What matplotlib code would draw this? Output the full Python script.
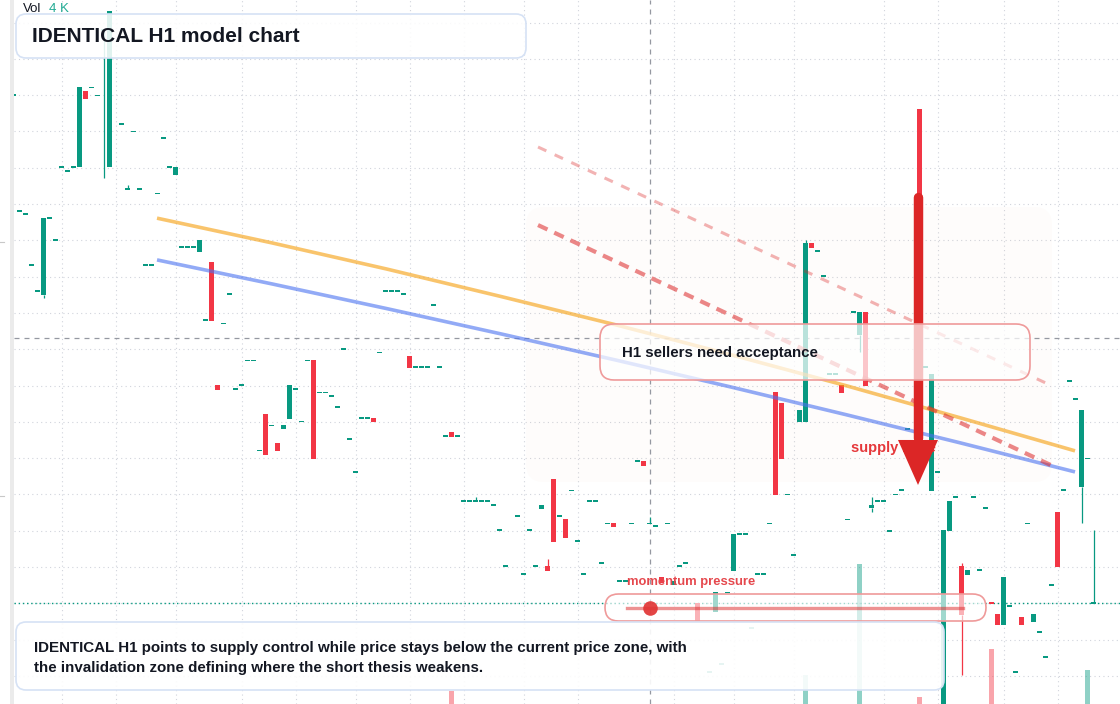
import numpy as np
import matplotlib.pyplot as plt
from matplotlib.patches import FancyBboxPatch, Rectangle, Polygon

plt.rcParams['font.family'] = ['Liberation Sans', 'DejaVu Sans']

W, H = 1120, 704
GREEN = '#089981'
RED = '#f23645'
INK = '#131722'

# H1 candles, one per bar index (None = not visible on the chart)
opens = [
    114.00, 110.80, 110.72, 109.31, 108.60, 108.49, 110.61, 110.00, 112.01, 111.90,
    112.01, 112.01, 114.11, 114.21, 113.99, 115.79, 112.01, None, 113.20, 111.41,
    113.00, 111.41, 109.31, 109.31, 111.29, 112.81, 112.01, 111.80, 109.81, 109.81,
    109.81, 109.68, 107.80, 109.40, 106.01, 107.71, 108.51, 105.90, 106.01, 106.69,
    106.69, 104.21, 105.21, 104.90, 104.42, 104.80, 105.08, 105.90, 105.01, 106.69,
    106.70, 105.81, 105.81, 105.70, 105.40, 107.00, 104.52, 103.61, 105.10, 105.10,
    105.10, 106.91, 108.60, 108.60, 108.60, 108.52, 106.81, 106.50, 106.50, 106.50,
    108.22, 106.50, 104.60, 104.72, 104.60, 102.81, 102.81, 102.81, 102.81, 102.81,
    102.70, 102.01, 101.02, None, 102.40, 100.80, 102.01, 101.02, 102.60, 101.03,
    103.42, 102.40, 102.32, 103.11, 101.71, 100.80, 102.81, 102.81, 101.10, 102.20,
    102.21, 100.61, 100.61, 102.20, 103.91, 103.92, 102.20, 102.12, 100.72, 102.20,
    100.50, 101.02, 101.10, None, 100.00, None, 98.10, 99.76, 98.33, 100.30,
    100.90, 101.90, 101.90, 99.32, 100.80, 100.80, 102.20, 105.82, 105.53, 103.00,
    101.32, 105.00, 105.00, 109.93, 109.70, 109.01, 106.31, 106.31, 106.01, 102.31,
    108.02, 107.40, 108.02, 102.62, 102.81, 102.81, 102.00, 103.00, 103.12, 104.81,
    None, 113.62, 106.50, 103.10, 103.61, 96.23, 102.00, 102.92, 101.03, 100.79,
    102.92, 100.92, 102.62, 100.02, 99.71, 99.40, 99.93, 98.10, 99.61, 102.20,
    99.49, 99.20, 98.51, 100.50, 102.52, 103.12, 106.12, 105.62, 103.20, 103.99,
    100.00,
]
closes = [
    114.00, 110.80, 110.72, 109.31, 108.60, 110.61, 110.61, 110.00, 112.01, 111.90,
    112.01, 114.22, 113.89, 114.21, 113.99, 115.79, 116.32, None, 113.20, 111.41,
    113.00, 111.41, 109.31, 109.31, 111.29, 112.81, 112.01, 112.01, 109.81, 109.81,
    109.81, 110.00, 107.80, 107.78, 105.88, 107.71, 108.51, 105.90, 106.01, 106.69,
    106.69, 104.21, 104.09, 104.90, 104.20, 104.91, 106.01, 105.90, 105.01, 106.69,
    103.98, 105.81, 105.81, 105.70, 105.40, 107.00, 104.52, 103.61, 105.10, 105.10,
    104.99, 106.91, 108.60, 108.60, 108.60, 108.52, 106.49, 106.50, 106.50, 106.50,
    108.22, 106.50, 104.60, 104.58, 104.60, 102.81, 102.81, 102.81, 102.81, 102.81,
    102.70, 102.01, 101.02, None, 102.40, 100.80, 102.01, 101.02, 102.71, 100.90,
    101.70, 102.40, 101.80, 103.11, 101.71, 100.80, 102.81, 102.81, 101.10, 102.20,
    102.10, 100.61, 100.61, 102.20, 103.91, 103.79, 102.20, 102.12, 100.57, 102.20,
    100.62, 101.02, 101.10, None, 99.51, None, 98.10, 100.31, 98.33, 100.30,
    101.91, 101.90, 101.90, 99.32, 100.80, 100.80, 102.20, 102.99, 103.98, 103.00,
    101.32, 105.33, 109.93, 109.80, 109.70, 109.01, 106.31, 106.31, 105.80, 102.31,
    108.02, 108.02, 105.99, 102.71, 102.81, 102.81, 102.00, 103.00, 103.12, 104.81,
    None, 108.36, 106.50, 106.32, 103.61, 102.02, 102.82, 102.92, 99.68, 100.92,
    102.92, 100.92, 102.62, 100.00, 99.40, 100.72, 99.93, 98.10, 99.40, 102.20,
    99.71, 99.20, 98.51, 100.50, 101.01, 103.12, 106.12, 105.62, 105.33, 103.99,
    100.00,
]
wick_highs = {19: 111.52, 77: 102.93, 89: 101.22, 106: 102.39, 132: 110.01,
              143: 102.94, 158: 101.11, 180: 102.02}
wick_lows = {5: 108.42, 15: 111.72, 141: 106.93, 143: 102.52, 158: 98.02,
             178: 102.22}

# volume (K) for the bars that show above the bottom edge
vol_idx = [73, 106, 132, 141, 151, 163, 179]
vol_k = [11.1, 4.0, 16.3, 53.3, 9.0, 25.0, 18.0]

grid_idx = [8, 17, 27, 38, 47, 57, 66, 75, 85, 94, 110, 120, 130, 145, 154, 165, 174]
grid_prices = list(range(98, 117))

last_price = 100.00
cross_idx, cross_price = 106, 107.31

# drawings: (bar index, price)
curve_x = [23.92, 43.04, 62.17, 81.29, 100.42, 119.54, 138.67, 157.79, 176.92]
orange_y = [110.61, 109.93, 109.21, 108.45, 107.67, 106.85, 106.00, 105.11, 104.20]
blue_y = [109.46, 108.80, 108.12, 107.42, 106.70, 105.96, 105.20, 104.42, 103.62]
dash_x = [87.42, 173.25]
dash_y = [110.42, 103.78]
dash2_x = [87.42, 173.08]
dash2_y = [112.57, 105.99]
zone_x = (85.42, 173.08)
zone_y = (103.34, 110.92)
arrow_x, arrow_top, arrow_tip = 150.75, 111.18, 103.26

fig = plt.figure(figsize=(W / 100, H / 100), dpi=100)
ax = fig.add_axes([0, 0, 1, 1])
x_lo, x_hi = -13.5 / 6, (W - 13.5) / 6
y_lo, y_hi = 97.226, 116.620
ax.set_xlim(x_lo, x_hi)
ax.set_ylim(y_lo, y_hi)
ax.set_axis_off()
ppx = (y_hi - y_lo) / H      # price per pixel
ipx = (x_hi - x_lo) / W      # bar index per pixel


def px_box(x0, y0, x1, y1, r, **kw):
    p = FancyBboxPatch((x0 / W, 1 - y1 / H), (x1 - x0) / W, (y1 - y0) / H,
                       boxstyle=f"round,pad=0,rounding_size={r / W}",
                       mutation_aspect=W / H, transform=ax.transAxes, **kw)
    ax.add_patch(p)


def px_text(x, y, s, **kw):
    ax.text(x / W, 1 - y / H, s, transform=ax.transAxes, va='center', ha='left', **kw)


# grid
x_start = x_lo + 14 * ipx
for gp in grid_prices:
    ax.plot([x_start, x_hi], [gp, gp], color='#d1d4dc', lw=0.8, ls=(0, (1, 3)), zorder=0)
for gi in grid_idx:
    ax.plot([gi, gi], [y_lo, y_hi], color='#d1d4dc', lw=0.8, ls=(0, (1, 3)), zorder=0)

# supply zone shading
ax.add_patch(FancyBboxPatch((zone_x[0], zone_y[0]), zone_x[1] - zone_x[0], zone_y[1] - zone_y[0],
                            boxstyle="round,pad=0,rounding_size=3", mutation_aspect=ppx / ipx,
                            fc='#fb923c', alpha=0.02, ec='none', zorder=1))

# volume
vol_base = y_lo - 20 * ppx
vol_scale = 3 * ppx
for vi, vk in zip(vol_idx, vol_k):
    up = closes[vi] >= opens[vi]
    ax.bar(vi, vk * vol_scale, bottom=vol_base, width=0.83,
           color=GREEN if up else RED, alpha=0.45, lw=0, zorder=1.5)

# crosshair and last price
ax.plot([cross_idx, cross_idx], [y_lo, y_hi], color='#9598a1', lw=0.9, ls=(0, (4, 4)), zorder=2)
ax.plot([x_start, x_hi], [cross_price, cross_price], color='#9598a1', lw=0.9, ls=(0, (4, 4)), zorder=2)
ax.plot([x_start, x_hi], [last_price, last_price], color=GREEN, lw=1.0, ls=(0, (1, 2)), zorder=2)

# candles
min_body = 1.8 * ppx
bx, bb, bh, bc = [], [], [], []
for i, (o, c) in enumerate(zip(opens, closes)):
    if o is None:
        continue
    lo, hi = min(o, c), max(o, c)
    h = max(hi - lo, min_body)
    bx.append(i)
    bb.append((lo + hi) / 2 - h / 2)
    bh.append(h)
    bc.append(GREEN if c >= o else RED)
    if i in wick_highs:
        ax.vlines(i, hi, wick_highs[i], color=bc[-1], lw=0.9, zorder=4)
    if i in wick_lows:
        ax.vlines(i, wick_lows[i], lo, color=bc[-1], lw=0.9, zorder=4)
ax.bar(bx, bh, bottom=bb, width=5 / 6, color=bc, lw=0, zorder=4)

# model curves and dashed projections
ax.plot(curve_x, orange_y, color='#f59e0b', alpha=0.6, lw=2.6, zorder=5, solid_capstyle='butt')
ax.plot(curve_x, blue_y, color='#4a72f0', alpha=0.6, lw=2.6, zorder=5, solid_capstyle='butt')
ax.plot(dash2_x, dash2_y, color='#dc2626', alpha=0.35, lw=2.2, ls=(0, (3, 3)), zorder=5)
ax.plot(dash_x, dash_y, color='#dc2626', alpha=0.55, lw=3.0, ls=(0, (2.5, 1.8)), zorder=5)

# supply label and arrow
px_text(851, 448, 'supply zone', fontsize=10.5, fontweight='bold', color='#e5383b', zorder=5.5)
head_len, head_half = 45 * ppx, 20 * ipx
head_base = arrow_tip + head_len
ax.plot([arrow_x, arrow_x], [arrow_top, head_base + 2 * ppx], color='#dc2626', lw=6.8,
        solid_capstyle='round', zorder=6)
ax.add_patch(Polygon([[arrow_x - head_half, head_base], [arrow_x + head_half, head_base],
                      [arrow_x, arrow_tip]], closed=True, fc='#dc2626', ec='none', zorder=6))

# acceptance note
px_box(600, 324, 1030, 380, 14, fc='white', alpha=0.72, ec='none', zorder=7)
px_box(600, 324, 1030, 380, 14, fc='none', ec='#ef9a9a', lw=1.2, zorder=7.1)
px_text(622, 353, 'H1 sellers need acceptance', fontsize=10.8, fontweight='bold', color=INK, zorder=8)

# momentum gauge
px_box(605, 594, 986, 621, 13.5, fc='white', alpha=0.62, ec='none', zorder=7)
px_box(605, 594, 986, 621, 13.5, fc='none', ec='#ef9a9a', lw=1.2, zorder=7.1)
ax.plot([627 / W, 963 / W], [1 - 608 / H, 1 - 608 / H], transform=ax.transAxes,
        color='#dc2626', alpha=0.5, lw=2.4, zorder=7.5)
ax.plot([650 / W], [1 - 608 / H], 'o', transform=ax.transAxes, ms=10.5,
        color='#e03131', alpha=0.9, mec='none', zorder=7.6)
px_text(627, 582, 'momentum pressure', fontsize=9.4, fontweight='bold', color='#e5484d', zorder=8)

# title and summary boxes
px_box(16, 14, 526, 58, 10, fc='white', alpha=0.88, ec='none', zorder=7)
px_box(16, 14, 526, 58, 10, fc='none', ec='#d6e2f5', lw=1.2, zorder=7.1)
px_text(32, 36.5, 'IDENTICAL H1 model chart', fontsize=15, fontweight='bold', color=INK, zorder=8)

px_box(16, 622, 944, 690, 10, fc='white', alpha=0.9, ec='none', zorder=7)
px_box(16, 622, 944, 690, 10, fc='none', ec='#d6e2f5', lw=1.2, zorder=7.1)
px_text(34, 648, 'IDENTICAL H1 points to supply control while price stays below the current price zone, with',
        fontsize=10.9, fontweight='bold', color=INK, zorder=8)
px_text(34, 668, 'the invalidation zone defining where the short thesis weakens.',
        fontsize=10.9, fontweight='bold', color=INK, zorder=8)

# volume legend
px_text(23, 9, 'Vol', fontsize=9.5, color=INK, zorder=8)
px_text(49, 9, '4 K', fontsize=9.5, color='#22ab94', zorder=8)

# left scale strip
ax.add_patch(Rectangle((10 / W, 0), 4 / W, 1, transform=ax.transAxes, fc='#ebebeb', ec='none', zorder=9))
for ty in [242, 496]:
    ax.plot([0, 4 / W], [1 - ty / H, 1 - ty / H], transform=ax.transAxes, color='#c8c8c8', lw=0.8, zorder=9)

fig.savefig('out.png', dpi=100)
